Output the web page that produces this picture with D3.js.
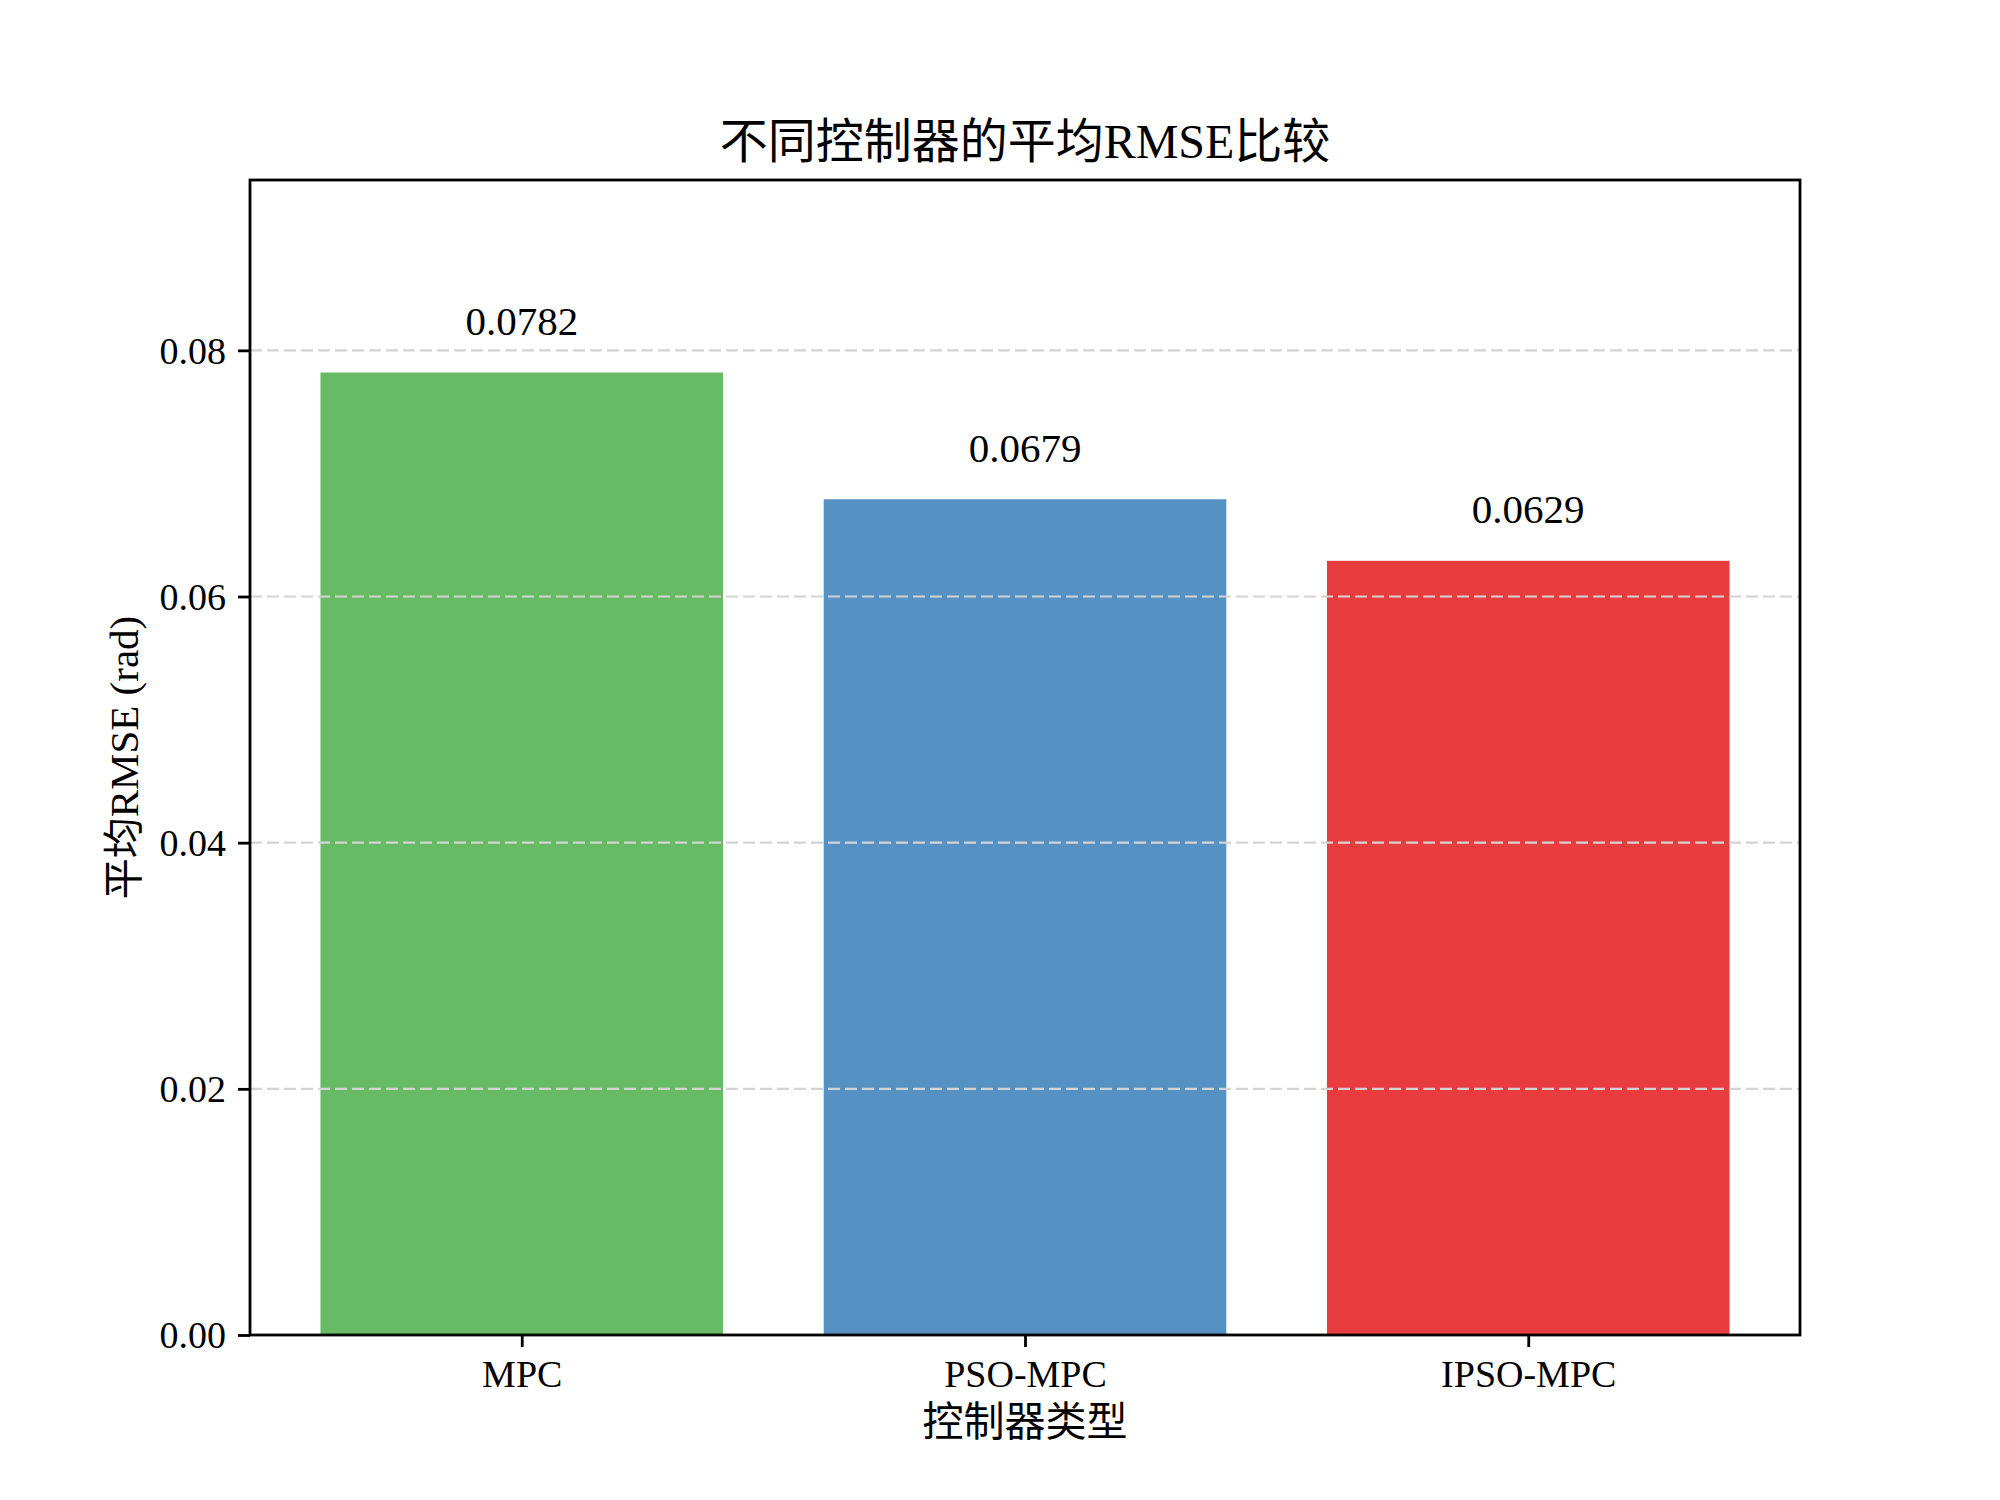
<!DOCTYPE html>
<html>
<head>
<meta charset="utf-8">
<script src="https://cdn.jsdelivr.net/npm/d3@7"></script>
<style>
  body { margin: 0; background: #fff; }
  text { font-family: "Liberation Serif", "Noto Sans CJK SC", serif; fill: #000; }
</style>
</head>
<body>
<script>
// data
const controllers = ["MPC", "PSO-MPC", "IPSO-MPC"];
const rmse = [0.0782, 0.0679, 0.0629];
const barColors = ["#67bb65", "#5591c2", "#e83c3e"];
const yTicks = [0, 0.02, 0.04, 0.06, 0.08];

// layout
const w = 2000;
const h = 1500;
const plotLeft = 250, plotRight = 1800, plotTop = 180, plotBottom = 1335;

const svg = d3.select("body").append("svg")
  .attr("width", w)
  .attr("height", h);

// scales
const xScale = d3.scaleLinear()
  .domain([-0.54, controllers.length - 1 + 0.54])
  .range([plotLeft, plotRight]);

const yScale = d3.scaleLinear()
  .domain([0, d3.max(rmse) * 1.2])
  .range([plotBottom, plotTop]);

const barW = xScale(0.8) - xScale(0);

// bars
svg.append("g")
  .selectAll("rect")
  .data(rmse)
  .enter()
  .append("rect")
  .attr("x", (d, i) => xScale(i) - barW / 2)
  .attr("y", (d) => yScale(d))
  .attr("width", barW)
  .attr("height", (d) => plotBottom - yScale(d))
  .attr("fill", (d, i) => barColors[i]);

// grid (drawn over the bars, like the original)
svg.append("g")
  .selectAll("line")
  .data(yTicks.filter((t) => t > 0))
  .enter()
  .append("line")
  .attr("x1", plotLeft)
  .attr("x2", plotRight)
  .attr("y1", (d) => yScale(d))
  .attr("y2", (d) => yScale(d))
  .attr("stroke", "#d3d3d3")
  .attr("stroke-width", 2.2)
  .attr("stroke-dasharray", "12,5");

// value labels
svg.append("g")
  .selectAll("text")
  .data(rmse)
  .enter()
  .append("text")
  .attr("x", (d, i) => xScale(i))
  .attr("y", (d) => yScale(d + 0.002) - 13)
  .attr("text-anchor", "middle")
  .style("font-size", "41px")
  .text((d) => d.toFixed(4));

// axes
const xAxis = d3.axisBottom(xScale)
  .tickValues(d3.range(controllers.length))
  .tickFormat((d) => controllers[d])
  .tickSize(12)
  .tickPadding(10);

const yAxis = d3.axisLeft(yScale)
  .tickValues(yTicks)
  .tickFormat(d3.format(".2f"))
  .tickSize(12)
  .tickPadding(12);

const gx = svg.append("g")
  .attr("transform", "translate(0," + plotBottom + ")")
  .call(xAxis);

const gy = svg.append("g")
  .attr("transform", "translate(" + plotLeft + ",0)")
  .call(yAxis);

[gx, gy].forEach((g) => {
  g.select(".domain").remove();
  g.selectAll(".tick line").attr("stroke", "#000").attr("stroke-width", 2.8);
  g.selectAll(".tick text")
    .style("font-size", "38px")
    .style("font-family", "'Liberation Serif', serif");
});
gy.selectAll(".tick text").attr("dy", "0.34em");
gx.selectAll(".tick text").attr("dy", "0.78em");

// frame
svg.append("rect")
  .attr("x", plotLeft)
  .attr("y", plotTop)
  .attr("width", plotRight - plotLeft)
  .attr("height", plotBottom - plotTop)
  .attr("fill", "none")
  .attr("stroke", "#000")
  .attr("stroke-width", 2.8);

// title and axis labels
svg.append("text")
  .attr("x", (plotLeft + plotRight) / 2)
  .attr("y", 158)
  .attr("text-anchor", "middle")
  .style("font-size", "48px")
  .text("不同控制器的平均RMSE比较");

svg.append("text")
  .attr("x", (plotLeft + plotRight) / 2)
  .attr("y", 1436)
  .attr("text-anchor", "middle")
  .style("font-size", "41px")
  .text("控制器类型");

svg.append("text")
  .attr("transform", "translate(138," + (plotTop + plotBottom) / 2 + ") rotate(-90)")
  .attr("text-anchor", "middle")
  .style("font-size", "41px")
  .text("平均RMSE (rad)");
</script>
</body>
</html>
